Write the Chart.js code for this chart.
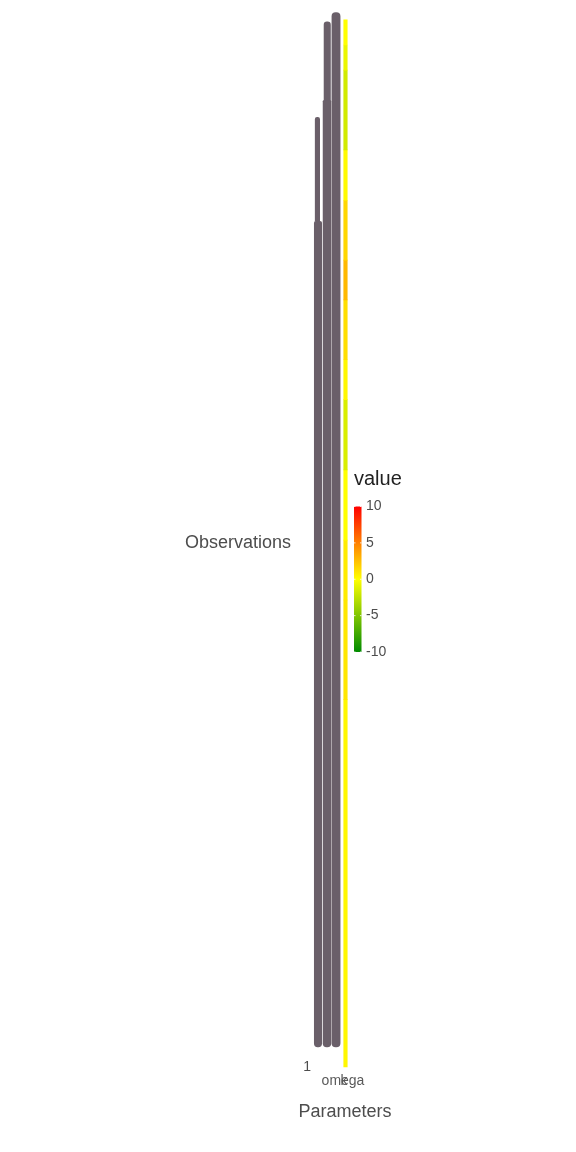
<!DOCTYPE html>
<html>
<head>
<meta charset="utf-8">
<script src="https://cdn.jsdelivr.net/npm/chart.js@4.4.1/dist/chart.umd.min.js"></script>
<style>
  html, body { margin: 0; padding: 0; background: #fff; }
  #grafico { display: block; }
</style>
</head>
<body>
<canvas id="grafico" width="576" height="1152"></canvas>
<script>
// eixo x: parametros, eixo y: observacoes
const parameterLabels = ['omega', 'k'];
const yTickValues = [1];
const yTickLabels = ['1'];

// faixa do heatmap: observacao inicial / final e valor
const heatFrom = [1, 351, 446, 503, 570, 637, 675, 732, 770, 827, 875, 951, 975];
const heatTo = [351, 446, 503, 570, 637, 675, 732, 770, 827, 875, 951, 975, 999];
const heatValue = [0.3, 1, 0.8, 0, -1.5, 0.3, 1.3, 2.8, 1.6, 0.2, -1.8, -0.8, 0];

// colunas cinzas (rotulos empilhados): observacao inicial / final
const greyFrom = [20, 807, 20, 922, 20];
const greyTo = [807, 906, 922, 997, 1006];

// escala de cores da legenda
const legendTicks = [10, 5, 0, -5, -10];
const legendMin = -10;
const legendMax = 10;

// layout (fora dos dados)
const xTickPos = [8.11, 8.38];
const heatPos = 8.78;
const greyPos = [1.35, 1.2, 3.78, 3.85, 6.22];
const greyWidth = [7.4, 4.5, 7.8, 6.4, 8.2];
// raio dos cantos: [topo, base]
const greyRadius = [[2, 3.7], [2.2, 0], [1, 3.9], [3.2, 0], [4.1, 4.1]];
const fonte = 'Liberation Sans, Arial, sans-serif';

const lowColor = [0, 139, 0];
const midColor = [255, 255, 0];
const highColor = [255, 0, 0];

function valueColor(v) {
  let t = Math.max(-1, Math.min(1, v / legendMax));
  const alvo = t < 0 ? lowColor : highColor;
  t = Math.abs(t);
  const c = midColor.map((m, i) => Math.round(m + (alvo[i] - m) * t));
  return `rgb(${c.join(',')})`;
}

var datasets = [];

greyFrom.forEach((inicio, i) => {
  const r = greyRadius[i];
  datasets.push({
    label: 'labels ' + i,
    data: [{ x: greyPos[i], y: [inicio, greyTo[i]] }],
    backgroundColor: '#6a5f69',
    barThickness: greyWidth[i],
    borderRadius: { topLeft: r[0], topRight: r[0], bottomLeft: r[1], bottomRight: r[1] },
    borderSkipped: false,
    grouped: false
  });
});

datasets.push({
  label: 'value',
  data: heatFrom.map((inicio, i) => ({ x: heatPos, y: [inicio, heatTo[i]] })),
  backgroundColor: heatValue.map(v => valueColor(v)),
  barThickness: 3.5,
  borderSkipped: false,
  grouped: false
});

const legendPlugin = {
  id: 'legendValue',
  afterDraw(chart) {
    const ctx = chart.ctx;
    const x = 354, w = 7.5, top = 506.5, bottom = 652;
    const posY = v => top + (legendMax - v) / (legendMax - legendMin) * (bottom - top);

    ctx.save();
    const grad = ctx.createLinearGradient(0, top, 0, bottom);
    grad.addColorStop(0, valueColor(legendMax));
    grad.addColorStop(0.5, valueColor(0));
    grad.addColorStop(1, valueColor(legendMin));
    ctx.fillStyle = grad;
    ctx.fillRect(x, top, w, bottom - top);

    // marcas brancas
    ctx.strokeStyle = '#fff';
    ctx.lineWidth = 0.8;
    legendTicks.forEach(v => {
      const y = posY(v);
      ctx.beginPath();
      ctx.moveTo(x, y); ctx.lineTo(x + 1.5, y);
      ctx.moveTo(x + w - 1.5, y); ctx.lineTo(x + w, y);
      ctx.stroke();
    });

    ctx.fillStyle = '#4d4d4d';
    ctx.font = `14px ${fonte}`;
    ctx.textAlign = 'left';
    ctx.textBaseline = 'middle';
    legendTicks.forEach(v => ctx.fillText(String(v), 366, posY(v)));

    ctx.fillStyle = '#222';
    ctx.font = `20px ${fonte}`;
    ctx.fillText('value', 354, 479);

    // titulos dos eixos (sem compressao pela largura do painel)
    ctx.fillStyle = '#4d4d4d';
    ctx.font = `18px ${fonte}`;
    ctx.textAlign = 'right';
    ctx.fillText('Observations', 291, 543);
    ctx.textAlign = 'center';
    ctx.fillText('Parameters', 345, 1112);
    ctx.restore();
  }
};

Chart.defaults.font.family = fonte;

new Chart(document.getElementById('grafico'), {
  type: 'bar',
  data: { datasets: datasets },
  options: {
    responsive: false,
    animation: false,
    events: [],
    layout: { padding: { left: 273, right: 226, top: 10, bottom: 25 } },
    plugins: {
      legend: { display: false },
      tooltip: { enabled: false }
    },
    scales: {
      x: {
        type: 'linear',
        min: 0,
        max: 10,
        offset: false,
        grid: { display: false, drawTicks: false },
        border: { display: false },
        ticks: {
          autoSkip: false,
          maxRotation: 0,
          padding: 3,
          color: '#5a5a5a',
          font: { size: 14 },
          callback: (v, i) => parameterLabels[i]
        },
        afterBuildTicks: (s) => { s.ticks = xTickPos.map(v => ({ value: v })) },
        afterFit: (s) => { s.height = 57 }
      },
      y: {
        type: 'linear',
        min: -2,
        max: 1008,
        grid: { display: false, drawTicks: false },
        border: { display: false },
        ticks: {
          autoSkip: false,
          padding: 2,
          color: '#4d4d4d',
          font: { size: 14 },
          callback: (v, i) => yTickLabels[i]
        },
        afterBuildTicks: (s) => { s.ticks = yTickValues.map(v => ({ value: v })) },
        afterFit: (s) => { s.width = 40 }
      }
    }
  },
  plugins: [legendPlugin]
});
</script>
</body>
</html>
